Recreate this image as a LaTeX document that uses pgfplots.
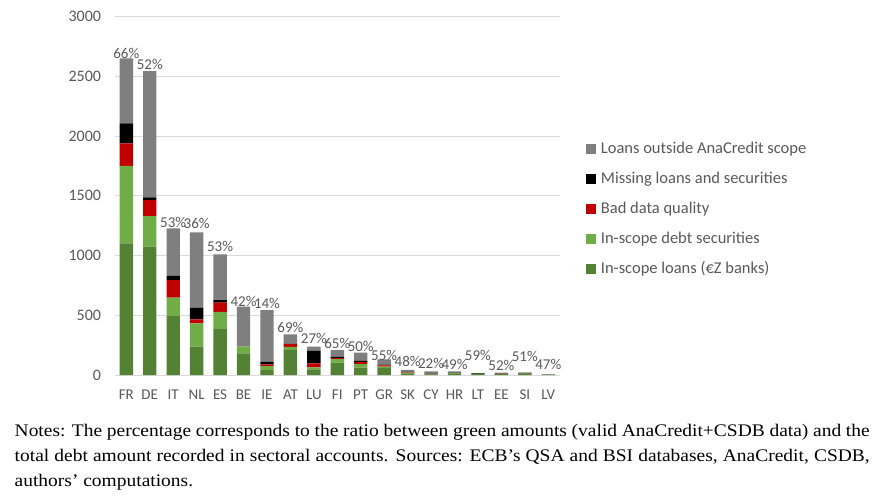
\documentclass[border=0pt]{standalone}
\usepackage{fontspec}
\setmainfont{Carlito}
\newfontfamily\notesfont[FakeStretch=1.1]{Liberation Serif}
\usepackage{pgfplots}
\usepackage{pgfplotstable}
\pgfplotsset{compat=1.18}
\definecolor{cgrey}{HTML}{7F7F7F}
\definecolor{cred}{HTML}{C00000}
\definecolor{clight}{HTML}{70AD47}
\definecolor{cdark}{HTML}{548235}
\definecolor{ctext}{HTML}{595959}
\definecolor{cgrid}{HTML}{D9D9D9}

\pgfplotstableread{
x  dk    lt   red  blk  gry   pct ly
0  1103  647  190  167  545   66  2696
1  1074  257  134  23   1057  52  2604
2  497   150  148  34   399   53  1281
3  237   196  33   98   631   36  1273
4  385   143  77   23   383   53  1074
5  181   56   0    0    335   42  614
6  40    35   14   22   433   14  600
7  210   26   24   0    80    69  400
8  48    16   34   103  36    27  307
9  103   33   8    9    56    65  265
10 61    31   17   11   67    50  243
11 59    12   10   4    46    55  165
12 14    6    4    2    16    48  117
13 5     2    1    1    21    22  98
14 12    3    1    1    13    49  92
15 7     2    0    5    2     59  167
16 8     2    1    1    8     52  84
17 9     2    1    1    9     51  159
18 3     1    0    0    4     47  92
}\datatable

\begin{document}
\begin{tikzpicture}
\path[use as bounding box] (0,0) rectangle (884pt,-501pt);
\begin{axis}[
  at={(114.6pt,-375pt)}, anchor=south west, scale only axis,
  width=445.4pt, height=358.3pt,
  xmin=-0.5, xmax=18.5, ymin=0, ymax=3000,
  ybar stacked, bar width=13.4pt,
  xtick={0,...,18},
  xticklabels={FR,DE,IT,NL,ES,BE,IE,AT,LU,FI,PT,GR,SK,CY,HR,LT,EE,SI,LV},
  ytick={0,500,...,3000},
  ymajorgrids, grid style={cgrid, line width=0.9pt},
  axis line style={draw=none},
  major tick length=0pt, tick style={draw=none},
  /pgf/number format/assume math mode=true,
  /pgf/number format/set thousands separator={},
  yticklabel style={font=\fontsize{16}{19}\selectfont, text=ctext, xshift=-10pt},
  xticklabel style={font=\fontsize{15}{18}\selectfont, text=ctext, yshift=-11pt},
  legend style={at={(1.0584,0.4633)}, anchor=west, draw=none, fill=none,
    font=\fontsize{16.5}{20}\selectfont, text=ctext, inner sep=0pt,
    row sep=10.5pt,
    nodes={inner sep=2pt, text height=12pt, text depth=3.5pt},
    /tikz/every odd column/.append style={column sep=2.7pt}},
  legend cell align=left, reverse legend,
  legend image code/.code={\fill[#1] (0pt,-5pt) rectangle (10pt,5pt);},
]
\addplot[fill=cdark, draw=none] table[x=x, y=dk]{\datatable};
\addlegendentry{In-scope loans (€Z banks)}
\addplot[fill=clight, draw=none] table[x=x, y=lt]{\datatable};
\addlegendentry{In-scope debt securities}
\addplot[fill=cred, draw=none] table[x=x, y=red]{\datatable};
\addlegendentry{Bad data quality}
\addplot[fill=black, draw=none] table[x=x, y=blk]{\datatable};
\addlegendentry{Missing loans and securities}
\addplot[fill=cgrey, draw=none] table[x=x, y=gry]{\datatable};
\addlegendentry{Loans outside AnaCredit scope}
\end{axis}
\begin{axis}[
  at={(114.6pt,-375pt)}, anchor=south west, scale only axis,
  width=445.4pt, height=358.3pt,
  xmin=-0.5, xmax=18.5, ymin=0, ymax=3000,
  hide axis, clip=false,
]
\addplot[draw=none, mark=none,
  point meta=explicit symbolic,
  nodes near coords={\pgfplotspointmeta\%},
  every node near coord/.append style={anchor=center, inner sep=0pt,
    font=\fontsize{15}{18}\selectfont, text=ctext}]
  table[x=x, y=ly, meta=pct]{\datatable};
\end{axis}
\node[anchor=base west, text width=855pt, inner sep=0pt, align=justify,
  font=\notesfont\fontsize{17.7}{25}\selectfont, text=black] at (14.5pt,-436.7pt)
  {Notes: The percentage corresponds to the ratio between green amounts (valid AnaCredit+CSDB data) and the\linebreak
   total debt amount recorded in sectoral accounts. Sources: ECB’s QSA and BSI databases, AnaCredit, CSDB,\linebreak
   authors’ computations.};
\end{tikzpicture}
\end{document}
